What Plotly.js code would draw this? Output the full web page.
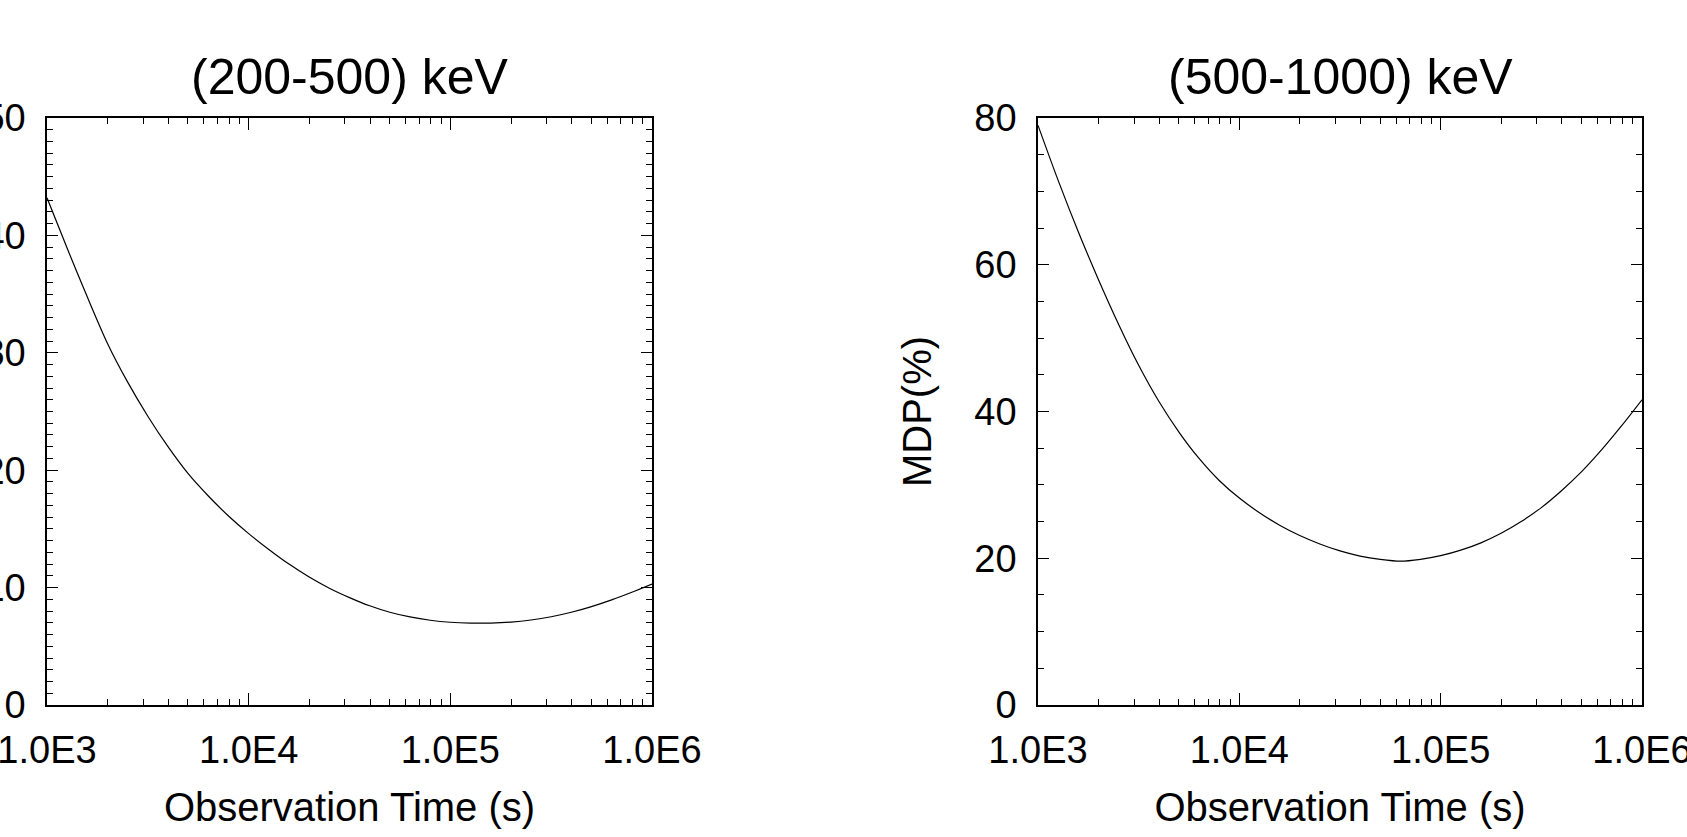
<!DOCTYPE html>
<html>
<head>
<meta charset="utf-8">
<script src="https://cdn.plot.ly/plotly-3.0.1.min.js"></script>
<style>html,body{margin:0;padding:0;background:#fff;}#chart{width:1687px;height:837px;}</style>
</head>
<body>
<div id="chart"></div>
<script>
// Observation time (s), log-spaced
const obsTime = [1000, 1259, 1585, 1995, 2512, 3162, 3981, 5012, 6310, 7943,
  10000, 12589, 15849, 19953, 25119, 31623, 39811, 50119, 63096, 79433,
  100000, 125893, 158489, 199526, 251189, 316228, 398107, 501187, 630957, 794328, 1000000];
// MDP (%) for (200-500) keV
const mdpLow = [43.2, 38.9, 34.75, 30.8, 27.5, 24.6, 22.0, 19.7, 17.8, 16.1,
  14.6, 13.25, 12.0, 10.9, 9.95, 9.15, 8.45, 7.9, 7.5, 7.22,
  7.05, 6.98, 6.98, 7.06, 7.24, 7.52, 7.9, 8.38, 8.95, 9.6, 10.3];
// MDP (%) for (500-1000) keV
const mdpHigh = [79.0, 71.5, 64.5, 58.0, 51.9, 46.3, 41.4, 37.2, 33.6, 30.6,
  28.2, 26.2, 24.5, 23.1, 21.95, 21.0, 20.3, 19.85, 19.6, 19.85,
  20.35, 21.1, 22.1, 23.4, 25.0, 26.9, 29.2, 31.8, 34.8, 38.1, 41.6];

const panelTitles = ["(200-500) keV", "(500-1000) keV"];
const xTickVals = [1e3, 1e4, 1e5, 1e6];
const xTickText = ["1.0E3", "1.0E4", "1.0E5", "1.0E6"];
const xTitle = "Observation Time (s)";
const yTitle = "MDP(%)";

const minorX = [];
for (let d = 3; d < 6; d++) for (let m = 2; m <= 9; m++) minorX.push(m * Math.pow(10, d));

const FONT = "'Liberation Sans', Arial, Helvetica, sans-serif";
const W = 1687, H = 837;
const px = v => v / W, py = v => 1 - v / H;

const traces = [
  {x: obsTime, y: mdpLow, xaxis: 'x', yaxis: 'y', type: 'scatter', mode: 'lines',
   line: {color: '#000', width: 1.2, shape: 'spline', smoothing: 0.8}, hoverinfo: 'x+y'},
  {x: obsTime, y: mdpHigh, xaxis: 'x2', yaxis: 'y2', type: 'scatter', mode: 'lines',
   line: {color: '#000', width: 1.2, shape: 'spline', smoothing: 0.8}, hoverinfo: 'x+y'}
];

function xAx(dom, anchor) {
  return {
    domain: dom, anchor: anchor, type: 'log', range: [3, 6],
    showline: true, linecolor: '#000', linewidth: 1.5, mirror: 'ticks',
    ticks: 'inside', ticklen: 12, tickwidth: 1.2, tickcolor: '#000',
    tickmode: 'array', tickvals: xTickVals, ticktext: xTickText,
    tickfont: {family: FONT, size: 38, color: '#000'}, ticklabelstandoff: 11,
    ticklabeloverflow: 'allow',
    minor: {tickmode: 'array', tickvals: minorX, ticks: 'inside', ticklen: 6, tickwidth: 1.2, tickcolor: '#000', showgrid: false},
    showgrid: false, zeroline: false,
    title: {text: xTitle, font: {family: FONT, size: 40, color: '#000'}, standoff: 23}
  };
}
function yAx(dom, anchor, rng, dt, mdt, withTitle) {
  const a = {
    domain: dom, anchor: anchor, range: rng,
    showline: true, linecolor: '#000', linewidth: 1.5, mirror: 'ticks',
    ticks: 'inside', ticklen: 11, tickwidth: 1.2, tickcolor: '#000',
    dtick: dt, tick0: 0,
    tickfont: {family: FONT, size: 38, color: '#000'}, ticklabelstandoff: 12,
    ticklabeloverflow: 'allow',
    minor: {dtick: mdt, ticks: 'inside', ticklen: 6, tickwidth: 1.2, tickcolor: '#000', showgrid: false},
    showgrid: false, zeroline: false
  };
  if (withTitle) a.title = {text: yTitle, font: {family: FONT, size: 40, color: '#000'}, standoff: 30};
  return a;
}

const yDom = [py(705), py(118)];
const x1Dom = [px(47), px(652)];
const x2Dom = [px(1038), px(1642)];

const layout = {
  width: W, height: H,
  margin: {l: 0, r: 0, t: 0, b: 0, pad: 0},
  paper_bgcolor: '#fff', plot_bgcolor: '#fff',
  showlegend: false,
  xaxis: xAx(x1Dom, 'y'),
  yaxis: yAx(yDom, 'x', [0, 50], 10, 1, false),
  xaxis2: xAx(x2Dom, 'y2'),
  yaxis2: yAx(yDom, 'x2', [0, 80], 20, 5, true),
  annotations: [
    {text: panelTitles[0], xref: 'paper', yref: 'paper', x: (x1Dom[0] + x1Dom[1]) / 2, y: py(77),
     xanchor: 'center', yanchor: 'middle', showarrow: false, font: {family: FONT, size: 50, color: '#000'}},
    {text: panelTitles[1], xref: 'paper', yref: 'paper', x: (x2Dom[0] + x2Dom[1]) / 2, y: py(77),
     xanchor: 'center', yanchor: 'middle', showarrow: false, font: {family: FONT, size: 50, color: '#000'}}
  ]
};

Plotly.newPlot('chart', traces, layout, {displayModeBar: false});
</script>
</body>
</html>
